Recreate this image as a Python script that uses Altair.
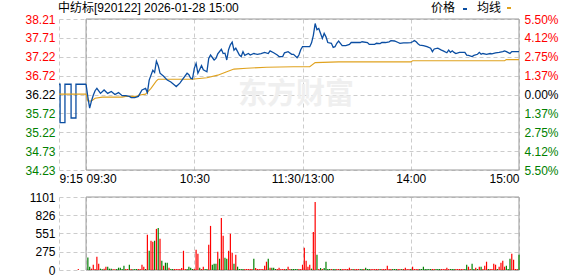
import altair as alt
import pandas as pd

FONT = "Liberation Sans, Noto Sans CJK SC, sans-serif"

title_text = "中纺标[920122] 2026-01-28 15:00"
legend_labels = ["价格", "均线"]
watermark_text = "东方财富"

# axes
price_ticks = [34.23, 34.73, 35.22, 35.72, 36.22, 36.72, 37.22, 37.71, 38.21]
pct_labels = ["5.50%", "4.12%", "2.75%", "1.37%", "0.00%", "1.37%", "2.75%", "4.12%", "5.50%"]
time_ticks = [-15, 0, 60, 120, 180, 240]          # minutes of trading clock from 09:30
time_labels = ["9:15", "09:30", "10:30", "11:30/13:00", "14:00", "15:00"]
vol_ticks = [0, 275, 551, 826, 1101]
PREV = 36.22

# pre-market auction (9:15-9:25), stepped
pre_t = [-15, -14.4, -11.7, -8.3, -5.6, 0]
pre_p = [36.49, 35.48, 36.49, 35.60, 36.49, 36.49]

# session price
px_t = [0, 1, 2, 3, 4, 5, 6, 8, 10, 12, 14, 16, 18, 20, 22, 24, 25, 27, 29, 31, 33, 34, 35, 37, 38, 39, 40,
        41, 43, 45, 47, 49, 50, 52, 54, 56, 57, 58, 59, 60, 61, 62, 64, 65, 67, 68, 69, 71, 72, 73, 75, 76,
        77, 78, 79, 80, 81, 82, 83, 85, 86, 87, 88, 90, 91, 93, 95, 97, 99, 101, 102, 104, 106, 107, 109,
        110, 112, 114, 115, 117, 118, 119, 120, 121, 124, 125, 126, 127, 128, 129, 130, 131, 132, 133, 134,
        136, 137, 138, 139, 140, 141, 142, 144, 146, 147, 152, 153, 156, 157, 160, 161, 163, 164, 166, 168,
        169, 171, 173, 174, 176, 178, 180, 181, 182, 183, 184, 185, 187, 189, 191, 192, 193, 195, 197, 198,
        200, 201, 202, 203, 204, 205, 207, 210, 211, 212, 214, 215, 217, 218, 219, 220, 222, 224, 225, 227,
        229, 231, 232, 233, 235, 236, 237, 240]
px_p = [36.49, 36.15, 35.86, 36.05, 36.20, 36.32, 36.38, 36.25, 36.34, 36.25, 36.30, 36.22, 36.27, 36.19,
        36.19, 36.17, 36.14, 36.14, 36.17, 36.34, 36.38, 36.27, 36.60, 36.86, 36.80, 37.10, 36.98,
        36.78, 36.70, 36.60, 36.55, 36.47, 36.43, 36.52, 36.65, 36.78, 36.74, 36.65, 36.63, 36.91, 37.04,
        36.78, 36.98, 36.87, 36.82, 37.17, 37.26, 37.13, 37.17, 37.29, 37.41, 37.30,
        37.31, 37.13, 37.40, 37.53, 37.60, 37.39, 37.44, 37.26, 37.22, 37.35, 37.25, 37.30, 37.26, 37.30,
        37.28, 37.30, 37.33, 37.30, 37.37, 37.32, 37.26, 37.22, 37.22,
        37.32, 37.35, 37.28, 37.28, 37.19, 37.26, 37.40, 37.48, 37.48, 37.48, 37.58, 37.78, 38.09, 37.93,
        37.96, 37.83, 37.70, 37.83, 37.74, 37.59,
        37.57, 37.46, 37.48, 37.57, 37.63, 37.57, 37.51, 37.51, 37.54, 37.59, 37.59, 37.61, 37.59, 37.54,
        37.54, 37.57, 37.56, 37.59, 37.59, 37.61,
        37.64, 37.63, 37.59, 37.57, 37.58, 37.58, 37.59, 37.61, 37.64, 37.61, 37.56, 37.52, 37.51, 37.48,
        37.44, 37.35, 37.42, 37.44, 37.39, 37.37,
        37.32, 37.39, 37.33, 37.37, 37.33, 37.30, 37.33, 37.33, 37.26, 37.25, 37.22, 37.25, 37.28, 37.33,
        37.28, 37.30, 37.28, 37.30, 37.29, 37.32,
        37.33, 37.35, 37.37, 37.35, 37.30, 37.35, 37.35, 37.35]

# average price
avg_t = [-15, 0, 1, 3, 5, 9, 20, 22, 28, 29, 33, 36, 39, 40, 59, 60, 67, 73, 78, 82, 89, 100, 115, 124,
         127, 140, 180, 181, 232, 233, 240]
avg_p = [36.23, 36.23, 36.05, 36.05, 36.12, 36.15, 36.15, 36.17, 36.17, 36.20, 36.23, 36.38, 36.58, 36.62,
         36.62, 36.63, 36.66, 36.73, 36.82, 36.89, 36.91, 36.94, 36.95, 36.95, 37.06, 37.08, 37.08, 37.11,
         37.11, 37.14, 37.14]

# volume per minute, minutes 1..240 (r = up, g = down)
vol = [190, 50, 20, 80, 15, 200, 95, 20, 10, 20,
       50, 50, 20, 20, 10, 10, 15, 35, 35, 15,
       65, 15, 15, 80, 15, 10, 15, 15, 15, 15,
       80, 50, 15, 530, 290, 440, 425, 440, 620, 635,
       470, 140, 65, 110, 110, 35, 15, 15, 15, 15,
       15, 15, 30, 290, 15, 15, 50, 35, 15, 15,
       305, 245, 35, 15, 50, 15, 15, 380, 665, 80,
       95, 95, 275, 170, 785, 515, 185, 170, 290, 545,
       260, 95, 230, 50, 15, 15, 15, 15, 15, 15,
       15, 15, 170, 30, 15, 15, 15, 15, 65, 125,
       170, 35, 35, 35, 15, 15, 35, 15, 15, 15,
       15, 50, 15, 15, 15, 15, 15, 15, 15, 80,
       335, 140, 50, 80, 20, 575, 1025, 230, 15, 30,
       15, 30, 125, 15, 15, 15, 15, 15, 15, 15,
       15, 15, 15, 15, 15, 35, 15, 15, 15, 15,
       15, 15, 15, 15, 35, 15, 15, 15, 15, 15,
       15, 15, 15, 15, 15, 15, 65, 15, 15, 15,
       15, 15, 15, 15, 15, 15, 35, 15, 15, 15,
       50, 15, 15, 15, 15, 15, 50, 15, 15, 15,
       15, 15, 15, 15, 15, 15, 15, 15, 15, 35,
       15, 15, 15, 15, 15, 15, 15, 15, 15, 15,
       80, 50, 15, 95, 15, 35, 15, 50, 50, 15,
       65, 125, 15, 15, 15, 95, 80, 15, 50, 110,
       140, 50, 65, 15, 170, 245, 155, 15, 15, 230]
vol_dir = list("ggrrrrrggr" "rgggrrgggg" "grrgrgggrr" "rrgrgrrgrg" "rgrggrggrr" "rrrrrggggr"
               "rrgrrggrrg" "ggrgrrggrr" "rgrggggrrr" "rrgrrrrrrr" "grgggrrrrr" "grrggggrrr"
               "rrrrgrrgrg" "rggggrggrr" "grrrrrrgrr" "rggrgggrrr" "rrgrrrrrrg" "ggrrgrrrrg"
               "rrrrgggggg" "grrgggrrrr" "rgggrrrrrg" "grrggrgrgr" "rrgrrrrgrr" "rrgggrrrrg")
pre_vol_t = [-4.3]
pre_vol = [15]
pre_vol_dir = ["r"]

BLUE = "#0b4ea2"
ORANGE = "#e0a21e"
RED = "#ff0000"
GREEN = "#008000"
GRID = "#cccccc"
FRAME = "#999999"


def lookup_expr(vals, labels):
    e = "''"
    for v, l in reversed(list(zip(vals, labels))):
        e = f"abs(datum.value - ({v})) < 0.001 ? '{l}' : {e}"
    return e


color_expr = f"datum.value > {PREV} + 0.005 ? '{RED}' : datum.value < {PREV} - 0.005 ? '{GREEN}' : '#000000'"

xscale = alt.Scale(domain=[time_ticks[0], time_ticks[-1]], nice=False, zero=False)
pscale = alt.Scale(domain=[price_ticks[0], price_ticks[-1]], nice=False, zero=False)
vscale = alt.Scale(domain=[vol_ticks[0], vol_ticks[-1]], nice=False)

xaxis = alt.Axis(values=time_ticks, labelExpr=lookup_expr(time_ticks, time_labels),
                 labelAlign=alt.ExprRef(expr=f"datum.value <= 0 ? 'left' : datum.value >= {time_ticks[-1]} ? 'right' : 'center'"),
                 grid=True, gridDash=[4, 3], gridColor=GRID, ticks=False, domain=False,
                 labelPadding=3, labelOverlap=False, title=None, labelFlush=False)
vxaxis = alt.Axis(values=time_ticks, labels=False, grid=True, gridDash=[4, 3], gridColor=GRID,
                  ticks=False, domain=False, title=None)

pyaxis_left = alt.Axis(values=price_ticks, grid=True, gridDash=[4, 3], gridColor=GRID, ticks=False,
                       domain=False, labelPadding=4, title=None, format=".2f", minExtent=55, maxExtent=55,
                       labelColor=alt.ExprRef(expr=color_expr), labelOverlap=False)
pyaxis_right = alt.Axis(values=price_ticks, orient="right", grid=False, ticks=False, domain=False,
                        labelPadding=5, title=None, labelExpr=lookup_expr(price_ticks[::-1], pct_labels),
                        labelColor=alt.ExprRef(expr=color_expr), labelOverlap=False)
vyaxis = alt.Axis(values=vol_ticks, grid=True, gridDash=[4, 3], gridColor=GRID, ticks=False, domain=False,
                  labelPadding=4, title=None, format="d", minExtent=55, maxExtent=55, labelOverlap=False)

# ---------- price panel ----------
pframe_df = pd.DataFrame({"t": [0], "t2": [time_ticks[-1]], "p": [price_ticks[0]], "p2": [price_ticks[-1]]})
pframe = alt.Chart(pframe_df).mark_rect(fill="transparent", stroke=FRAME, strokeWidth=1).encode(
    x=alt.X("t:Q", scale=xscale, axis=xaxis), x2="t2",
    y=alt.Y("p:Q", scale=pscale, axis=None), y2="p2")

wm = alt.Chart(pd.DataFrame({"txt": [watermark_text]})).mark_text(
    font="Noto Sans CJK SC", fontSize=29, fontWeight="bold", color="#efefef", align="left", baseline="middle"
).encode(x=alt.value(179), y=alt.value(76), text="txt:N")

pre_df = pd.DataFrame({"t": pre_t, "p": pre_p})
pre_line = alt.Chart(pre_df).mark_line(color=BLUE, strokeWidth=1.3, interpolate="step-after").encode(
    x=alt.X("t:Q", scale=xscale, axis=xaxis), y=alt.Y("p:Q", scale=pscale, axis=None))

avg_df = pd.DataFrame({"t": avg_t, "p": avg_p})
avg_line = alt.Chart(avg_df).mark_line(color=ORANGE, strokeWidth=1.1).encode(
    x=alt.X("t:Q", scale=xscale, axis=xaxis), y=alt.Y("p:Q", scale=pscale, axis=pyaxis_right))

px_df = pd.DataFrame({"t": px_t, "p": px_p})
px_line = alt.Chart(px_df).mark_line(color=BLUE, strokeWidth=1.3).encode(
    x=alt.X("t:Q", scale=xscale, axis=xaxis), y=alt.Y("p:Q", scale=pscale, axis=pyaxis_left))

title_mark = alt.Chart(pd.DataFrame({"txt": [title_text]})).mark_text(
    font=FONT, fontSize=12, color="#000", align="left", baseline="middle"
).encode(x=alt.value(-1), y=alt.value(-11), text="txt:N")

leg1 = alt.Chart(pd.DataFrame({"txt": [legend_labels[0]]})).mark_text(
    font=FONT, fontSize=12, color="#000", align="left", baseline="middle"
).encode(x=alt.value(372), y=alt.value(-11), text="txt:N")
leg1_sym = alt.Chart(pd.DataFrame({"txt": [legend_labels[0]]})).mark_rect(color=BLUE).encode(
    x=alt.value(404), x2=alt.value(408), y=alt.value(-11), y2=alt.value(-9))
leg2 = alt.Chart(pd.DataFrame({"txt": [legend_labels[1]]})).mark_text(
    font=FONT, fontSize=12, color="#000", align="left", baseline="middle"
).encode(x=alt.value(418), y=alt.value(-11), text="txt:N")
leg2_sym = alt.Chart(pd.DataFrame({"txt": [legend_labels[1]]})).mark_rect(color=ORANGE).encode(
    x=alt.value(448), x2=alt.value(452), y=alt.value(-12), y2=alt.value(-10))

price_panel = alt.layer(pframe, wm, pre_line, avg_line, px_line, title_mark, leg1, leg1_sym, leg2, leg2_sym
                        ).resolve_scale(y="independent").properties(width=460, height=151)

# ---------- volume panel ----------
vframe_df = pd.DataFrame({"t": [0], "t2": [time_ticks[-1]], "v": [vol_ticks[0]], "v2": [vol_ticks[-1]]})
vframe = alt.Chart(vframe_df).mark_rect(fill="transparent", stroke=FRAME, strokeWidth=1).encode(
    x=alt.X("t:Q", scale=xscale, axis=vxaxis), x2="t2",
    y=alt.Y("v:Q", scale=vscale, axis=vyaxis), y2="v2")

vol_df = pd.DataFrame({"t": pre_vol_t + list(range(1, 241)), "v": pre_vol + vol, "d": pre_vol_dir + vol_dir})
bars = alt.Chart(vol_df).mark_rule(strokeWidth=1.2).encode(
    x=alt.X("t:Q", scale=xscale, axis=vxaxis),
    y=alt.Y("v:Q", scale=vscale, axis=vyaxis), y2=alt.datum(0),
    color=alt.Color("d:N", scale=alt.Scale(domain=["r", "g"], range=[RED, GREEN]), legend=None))

vol_panel = alt.layer(vframe, bars).properties(width=460, height=73)

chart = alt.vconcat(price_panel, vol_panel, spacing=7).properties(
    padding={"left": 4, "top": 2, "right": 0, "bottom": 0}, background="white"
).configure_view(stroke=None).configure_axis(
    labelFont=FONT, labelFontSize=12, labelColor="#000")

chart.save("out.html", embed_options={"renderer": "svg", "actions": False})
